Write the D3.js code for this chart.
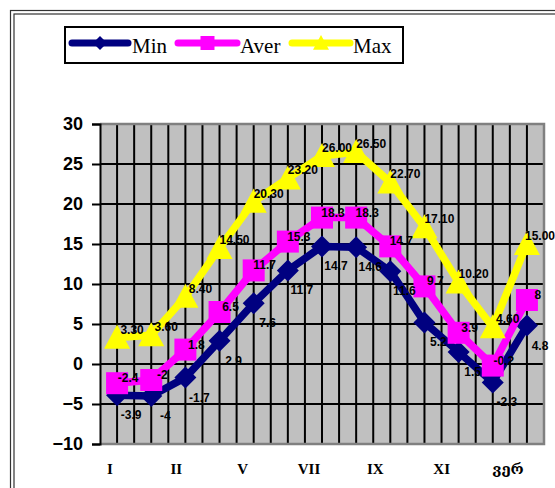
<!DOCTYPE html>
<html>
<head>
<meta charset="utf-8">
<script src="https://cdn.jsdelivr.net/npm/d3@7"></script>
<style>
  html, body { margin: 0; padding: 0; background: #fff; }
  svg { display: block; }
</style>
</head>
<body>
<script>
// ---- data ----
const categories = ["I", "II", "III", "IV", "V", "VI", "VII", "VIII", "IX", "X", "XI", "XII", "ვერ"];
const minValues  = [-3.9, -4, -1.7, 2.9, 7.6, 11.7, 14.7, 14.6, 11.6, 5.2, 1.5, -2.3, 4.8];
const averValues = [-2.4, -2, 1.8, 6.5, 11.7, 15.3, 18.3, 18.3, 14.7, 9.7, 3.9, -0.2, 8];
const maxValues  = [3.3, 3.6, 8.4, 14.5, 20.3, 23.2, 26.0, 26.5, 22.7, 17.1, 10.2, 4.6, 15.0];
const xTickLabels = ["I", "II", "V", "VII", "IX", "XI", "ვერ"];
const yTicks = [-10, -5, 0, 5, 10, 15, 20, 25, 30];
const seriesNames = ["Min", "Aver", "Max"];

const W = 555, H = 488;
const svg = d3.select("body").append("svg").attr("width", W).attr("height", H);
svg.append("rect").attr("width", W).attr("height", H).attr("fill", "#fff");

// outer double frame
svg.append("rect").attr("x", 10.5).attr("y", 10.5).attr("width", 600).attr("height", 600)
  .attr("fill", "none").attr("stroke", "#333").attr("stroke-width", 1.2);
svg.append("rect").attr("x", 14).attr("y", 14).attr("width", 600).attr("height", 600)
  .attr("fill", "none").attr("stroke", "#333").attr("stroke-width", 1.2);

// plot area
const pl = 100, pr = 544, pt = 124, pb = 444;
const x = d3.scaleBand().domain(categories).range([pl, pr]).padding(0);
const xc = d => x(d) + x.bandwidth() / 2;
const y = d3.scaleLinear().domain([-10, 30]).range([pb, pt]);
const xLab = d3.scalePoint().domain(xTickLabels).range([110, 508]);

svg.append("rect").attr("x", pl).attr("y", pt).attr("width", pr - pl).attr("height", pb - pt)
  .attr("fill", "#C0C0C0");

// gridlines
const grid = svg.append("g");
grid.selectAll("line.h").data(yTicks.filter(v => v > -10 && v < 30)).enter().append("line")
  .attr("x1", pl).attr("x2", pr).attr("y1", d => y(d)).attr("y2", d => y(d))
  .attr("stroke", "#000").attr("stroke-width", 2);
const vLines = [];
categories.forEach((c, i) => {
  if (i > 0) vLines.push(x(c));
  vLines.push(xc(c));
});
grid.selectAll("line.v").data(vLines).enter().append("line")
  .attr("x1", d => d).attr("x2", d => d).attr("y1", pt).attr("y2", pb)
  .attr("stroke", "#000").attr("stroke-width", 2);

// gray border top/right/bottom
svg.append("path")
  .attr("d", `M${pl},${pt}H${pr}V${pb}H${pl}`)
  .attr("fill", "none").attr("stroke", "#808080").attr("stroke-width", 2.5);

// y axis
const yAxis = d3.axisLeft(y).tickValues(yTicks).tickSize(8).tickPadding(9).tickFormat(d3.format("d"));
const ya = svg.append("g").attr("transform", `translate(${pl},0)`).call(yAxis);
ya.select(".domain").attr("stroke", "#000").attr("stroke-width", 2);
ya.selectAll(".tick line").attr("stroke", "#000").attr("stroke-width", 2);
ya.selectAll(".tick text")
  .attr("font-family", "'Liberation Sans', Arial, sans-serif")
  .attr("font-weight", "bold").attr("font-size", 18).attr("fill", "#000");

// x labels
svg.append("g").selectAll("text").data(xTickLabels).enter().append("text")
  .attr("x", d => xLab(d)).attr("y", 474)
  .attr("text-anchor", "middle")
  .attr("font-family", "'Liberation Serif', 'Times New Roman', 'DejaVu Serif', serif")
  .attr("font-weight", "bold").attr("font-size", 15).attr("fill", "#000")
  .text(d => d);

// series
const diamond = s => `M0,${-s}L${s},0L0,${s}L${-s},0Z`;
const square = s => `M${-s},${-s}H${s}V${s}H${-s}Z`;
const triangle = s => `M0,${-s}L${s},${s * 0.85}L${-s},${s * 0.85}Z`;

const series = [
  { name: seriesNames[0], values: minValues, color: "#000080", marker: diamond, ms: 11, lms: 7,
    fmt: v => String(v), dx: 14, dy: 24 },
  { name: seriesNames[1], values: averValues, color: "#FF00FF", marker: square, ms: 11, lms: 7,
    fmt: v => String(v), dx: 11, dy: -1 },
  { name: seriesNames[2], values: maxValues, color: "#FFFF00", marker: triangle, ms: 13, lms: 8,
    fmt: d3.format(".2f"), dx: 15, dy: -4 }
];

const line = d3.line().x((d, i) => xc(categories[i])).y(d => y(d));
series.forEach(s => {
  const g = svg.append("g");
  g.append("path").attr("d", line(s.values)).attr("fill", "none")
    .attr("stroke", s.color).attr("stroke-width", 7.5).attr("stroke-linejoin", "round");
  g.selectAll("path.m").data(s.values).enter().append("path")
    .attr("d", s.marker(s.ms))
    .attr("transform", (d, i) => `translate(${xc(categories[i])},${y(d)})`)
    .attr("fill", s.color);
});

// data labels
series.forEach(s => {
  svg.append("g").selectAll("text").data(s.values).enter().append("text")
    .attr("x", (d, i) => Math.min(xc(categories[i]) + s.dx, W - 15))
    .attr("y", d => y(d) + s.dy)
    .attr("text-anchor", "middle")
    .attr("font-family", "'Liberation Sans', Arial, sans-serif")
    .attr("font-weight", "bold").attr("font-size", 12).attr("fill", "#000")
    .text(d => s.fmt(d));
});

// legend
const lg = svg.append("g");
lg.append("rect").attr("x", 65).attr("y", 27).attr("width", 338).attr("height", 36)
  .attr("fill", "#fff").attr("stroke", "#000").attr("stroke-width", 2);
const legX = [[72, 128, 132], [178, 237, 240], [292, 350, 353]];
series.forEach((s, i) => {
  const [x1, x2, tx] = legX[i];
  lg.append("line").attr("x1", x1).attr("x2", x2).attr("y1", 43).attr("y2", 43)
    .attr("stroke", s.color).attr("stroke-width", 7).attr("stroke-linecap", "round");
  lg.append("path").attr("d", s.marker(s.lms))
    .attr("transform", `translate(${(x1 + x2) / 2},43)`).attr("fill", s.color);
  lg.append("text").attr("x", tx).attr("y", 53)
    .attr("font-family", "'Liberation Serif', 'Times New Roman', serif")
    .attr("font-size", 21).attr("fill", "#000").text(s.name);
});
</script>
</body>
</html>
